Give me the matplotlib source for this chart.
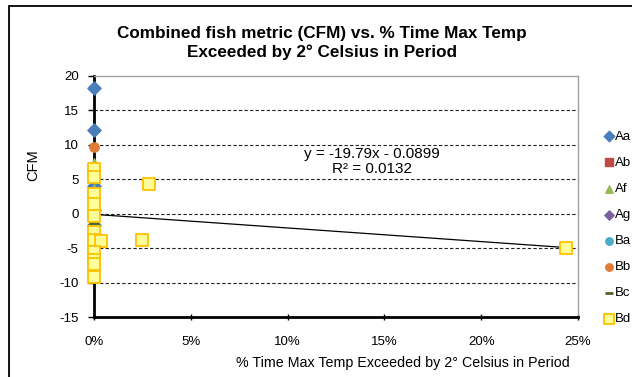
import numpy as np
import matplotlib
matplotlib.use("Agg")
import matplotlib.pyplot as plt
from matplotlib.ticker import PercentFormatter, MultipleLocator
from matplotlib.patches import Rectangle

plt.rcParams['font.family'] = ['Liberation Sans', 'DejaVu Sans']
plt.rcParams['axes.unicode_minus'] = False

# fraction of time exceeded (x) and CFM (y) for each site group
aa_x = [0, 0, 0, 0, 0, 0]
aa_y = [18.2, 12.2, 4.0, 0.6, -1.6, -4.3]
ab_x = [0]
ab_y = [2.0]
af_x = [0, 0, 0, 0, 0]
af_y = [7.3, 3.6, 2.0, 0.8, -1.2]
ag_x = [0]
ag_y = [-7.9]
ba_x = [0, 0]
ba_y = [0.4, -1.0]
bb_x = [0]
bb_y = [9.7]
bc_x = [0, 0, 0]
bc_y = [1.5, 0.0, -1.4]
bd_x = [0, 0, 0, 0, 0, 0, 0, 0.0035, 0, 0, 0, 0, 0.0284, 0.0248, 0.244]
bd_y = [6.5, 5.3, 2.9, 1.4, -0.3, -2.7, -3.8, -4.0, -5.6, -6.7, -7.3, -9.2, 4.3, -3.8, -5.0]

# linear trendline shown in the chart
slope = -19.79
intercept = -0.0899
r2 = 0.0132

fig = plt.figure(figsize=(6.32, 3.77), dpi=100)
ax = fig.add_axes([94/632, 1 - 317/377, 484/632, 241/377])

kw = dict(clip_on=False)
ax.scatter(aa_x, aa_y, marker='D', s=45, color='#4A7EBB', label='Aa', zorder=3, **kw)
ax.scatter(ab_x, ab_y, marker='s', s=40, color='#BE4B48', label='Ab', zorder=3, **kw)
ax.scatter(af_x, af_y, marker='^', s=45, color='#98B954', label='Af', zorder=3, **kw)
ax.scatter(ag_x, ag_y, marker='D', s=35, color='#7D60A0', label='Ag', zorder=3, **kw)
ax.scatter(ba_x, ba_y, marker='o', s=45, color='#4BACC6', label='Ba', zorder=3, **kw)
ax.scatter(bb_x, bb_y, marker='o', s=45, color='#E07B39', label='Bb', zorder=3, **kw)
ax.scatter(bc_x, bc_y, marker='_', s=60, color='#4F6228', linewidths=2, label='Bc', zorder=3, **kw)
ax.scatter(bd_x, bd_y, marker='s', s=70, facecolor='#FFFF99', edgecolor='#FFC000',
           linewidths=1.3, label='Bd', zorder=4, **kw)

tx = np.array([0, max(bd_x)])
ax.plot(tx, slope * tx + intercept, color='black', lw=0.9, zorder=2)
ax.text(0.575, 0.647, 'y = -19.79x - 0.0899\nR² = 0.0132', transform=ax.transAxes,
        ha='center', va='center', fontsize=11, linespacing=1.1)

ax.set_xlim(0, 0.25)
ax.set_ylim(-15, 20)
ax.xaxis.set_major_locator(MultipleLocator(0.05))
ax.xaxis.set_major_formatter(PercentFormatter(1.0, decimals=0))
ax.yaxis.set_major_locator(MultipleLocator(5))
for yv in [-10, -5, 0, 5, 10, 15]:
    ax.axhline(yv, color='#202020', lw=0.8, ls=(0, (3, 2)), zorder=1)

for s in ['top', 'right']:
    ax.spines[s].set_color('#A0A0A0')
    ax.spines[s].set_linewidth(1)
for s in ['left', 'bottom']:
    ax.spines[s].set_color('black')
    ax.spines[s].set_linewidth(2)
ax.tick_params(axis='x', labelsize=9.5, length=4, width=1, pad=12, direction='inout')
ax.tick_params(axis='y', labelsize=9.5, length=4, width=1, pad=7)

fig.text(322/632, 1 - 43/377, 'Combined fish metric (CFM) vs. % Time Max Temp\nExceeded by 2° Celsius in Period',
         ha='center', va='center', fontsize=12.3, fontweight='bold', linespacing=1.3)
fig.text(33/632, 1 - 165/377, 'CFM', rotation=90, ha='center', va='center', fontsize=10.5)
fig.text(570/632, 1 - 363/377, '% Time Max Temp Exceeded by 2° Celsius in Period',
         ha='right', va='center', fontsize=10.3)

handles, labels = ax.get_legend_handles_labels()
fig.legend(handles, labels, loc='upper left', bbox_to_anchor=(598/632, 1 - 124/377),
           frameon=False, fontsize=9.5, markerscale=0.8, handlelength=0.6,
           handletextpad=0.2, labelspacing=1.05, borderpad=0)

fig.patches.append(Rectangle((9/632, -0.1), 1.2, 1 - 6/377 + 0.1, transform=fig.transFigure,
                             fill=False, edgecolor='black', lw=1.3))

fig.savefig('out.png', dpi=100)
